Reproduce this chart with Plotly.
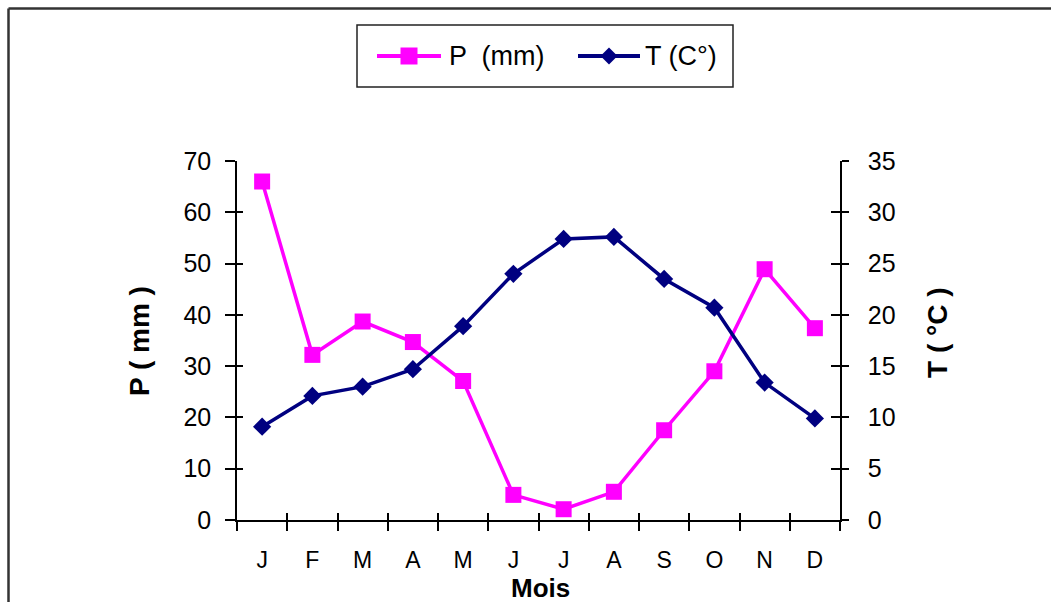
import plotly.graph_objects as go

# Monthly climate data
months = ["J", "F", "M", "A", "M", "J", "J", "A", "S", "O", "N", "D"]
precip_mm = [66.0, 32.2, 38.7, 34.7, 27.1, 4.9, 2.1, 5.5, 17.5, 29.0, 48.9, 37.4]
temp_c = [9.1, 12.1, 13.0, 14.7, 18.9, 24.0, 27.4, 27.6, 23.5, 20.7, 13.4, 9.9]

p_ticks = [0, 10, 20, 30, 40, 50, 60, 70]
t_ticks = [0, 5, 10, 15, 20, 25, 30, 35]

PINK = "#FF00FF"
NAVY = "#000080"
FONT = "Liberation Sans, Arial, sans-serif"

W, H = 1051, 602
PL, PR, PT, PB = 237, 840, 161, 520


def px(x):
    return (x - PL) / (PR - PL)


def py(y):
    return (PB - y) / (PB - PT)


xidx = list(range(len(months)))

fig = go.Figure()
fig.add_trace(go.Scatter(
    x=xidx, y=precip_mm, name="P  (mm)", mode="lines+markers",
    line=dict(color=PINK, width=3.5),
    marker=dict(symbol="square", size=16, color=PINK),
    xaxis="x", yaxis="y",
))
fig.add_trace(go.Scatter(
    x=xidx, y=temp_c, name="T (C°)", mode="lines+markers",
    line=dict(color=NAVY, width=3.5),
    marker=dict(symbol="diamond", size=14, color=NAVY),
    xaxis="x", yaxis="y2",
))
# empty traces so the tick-overlay axes are rendered
fig.add_trace(go.Scatter(x=[], y=[], xaxis="x2", yaxis="y3", showlegend=False, hoverinfo="skip"))
fig.add_trace(go.Scatter(x=[], y=[], xaxis="x3", yaxis="y4", showlegend=False, hoverinfo="skip"))

tickfont = dict(family=FONT, size=25, color="#000")
axis_common = dict(showgrid=False, zeroline=False, linecolor="#000", linewidth=1.5,
                   tickcolor="#000", tickwidth=1.5)
xrange = [-0.5, len(months) - 0.5]

fig.update_layout(
    width=W, height=H,
    margin=dict(l=PL, r=W - PR, t=PT, b=H - PB),
    paper_bgcolor="white", plot_bgcolor="white",
    showlegend=False,
    xaxis=dict(
        **axis_common, range=xrange,
        tickmode="array", tickvals=xidx, ticktext=months,
        ticks="", showline=True, tickfont=dict(family=FONT, size=23, color="#000"),
        ticklabelstandoff=19,
    ),
    # crossing tick marks on the category boundaries
    xaxis2=dict(
        **axis_common, overlaying="x", range=xrange,
        tickmode="linear", tick0=-0.5, dtick=1, ticks="inside", ticklen=7,
        showticklabels=False, showline=False, anchor="y",
    ),
    xaxis3=dict(
        **axis_common, overlaying="x", range=xrange,
        tickmode="linear", tick0=-0.5, dtick=1, ticks="outside", ticklen=10,
        showticklabels=False, showline=False, anchor="y",
    ),
    yaxis=dict(
        **axis_common, range=[0, 70], tickvals=p_ticks, ticks="outside", ticklen=10,
        showline=True, tickfont=tickfont, ticklabelstandoff=9,
    ),
    yaxis2=dict(
        **axis_common, range=[0, 35], tickvals=t_ticks, overlaying="y", side="right",
        ticks="outside", ticklen=7, showline=True, tickfont=tickfont, ticklabelstandoff=14,
        anchor="x",
    ),
    yaxis3=dict(
        **axis_common, range=[0, 70], tickvals=p_ticks, overlaying="y", side="left",
        ticks="inside", ticklen=6, showticklabels=False, showline=False, anchor="x",
    ),
    yaxis4=dict(
        **axis_common, range=[0, 35], tickvals=t_ticks, overlaying="y", side="right",
        ticks="inside", ticklen=9, showticklabels=False, showline=False, anchor="x",
    ),
)

title_font = dict(family=FONT, size=28, color="#000")
shapes = []
annotations = [
    dict(text="<b>P ( mm )</b>", x=px(139), y=py(341), xref="paper", yref="paper",
         textangle=-90, showarrow=False, font=title_font, xanchor="center", yanchor="middle"),
    dict(text="<b>T ( °C )</b>", x=px(937), y=py(333), xref="paper", yref="paper",
         textangle=-90, showarrow=False, font=title_font, xanchor="center", yanchor="middle"),
    dict(text="<b>Mois</b>", x=px(540), y=py(588), xref="paper", yref="paper",
         showarrow=False, font=dict(family=FONT, size=26, color="#000"),
         xanchor="center", yanchor="middle"),
]

# outer chart frame (left and top edges)
shapes.append(dict(type="line", xref="paper", yref="paper",
                   x0=px(8.5), y0=py(H + 5), x1=px(8.5), y1=py(8.5),
                   line=dict(color="#333", width=2.5)))
shapes.append(dict(type="line", xref="paper", yref="paper",
                   x0=px(8.5), y0=py(8.5), x1=px(W + 5), y1=py(8.5),
                   line=dict(color="#333", width=2.5)))

# legend box
shapes.append(dict(type="rect", xref="paper", yref="paper",
                   x0=px(357), y0=py(87), x1=px(733), y1=py(25),
                   line=dict(color="#222", width=1.5), fillcolor="white"))
leg_y = 56
legend_items = [
    (fig.data[0].name, PINK, 377, 441, 409, "square", 447),
    (fig.data[1].name, NAVY, 578, 640, 609, "diamond", 643),
]
for name, color, lx0, lx1, mx, sym, tx in legend_items:
    shapes.append(dict(type="line", xref="paper", yref="paper",
                       x0=px(lx0), y0=py(leg_y), x1=px(lx1), y1=py(leg_y),
                       line=dict(color=color, width=4)))
    r = 8.5
    if sym == "square":
        shapes.append(dict(type="rect", xref="paper", yref="paper",
                           x0=px(mx - r), y0=py(leg_y + r), x1=px(mx + r), y1=py(leg_y - r),
                           line=dict(width=0), fillcolor=color))
    else:
        path = "M {} {} L {} {} L {} {} L {} {} Z".format(
            px(mx - r), py(leg_y), px(mx), py(leg_y - r),
            px(mx + r), py(leg_y), px(mx), py(leg_y + r))
        shapes.append(dict(type="path", xref="paper", yref="paper", path=path,
                           line=dict(width=0), fillcolor=color))
    annotations.append(dict(text=name, x=px(tx), y=py(leg_y), xref="paper", yref="paper",
                            showarrow=False, xanchor="left", yanchor="middle",
                            font=dict(family=FONT, size=27, color="#000")))

fig.update_layout(shapes=shapes, annotations=annotations)

fig.write_html("out.html")
